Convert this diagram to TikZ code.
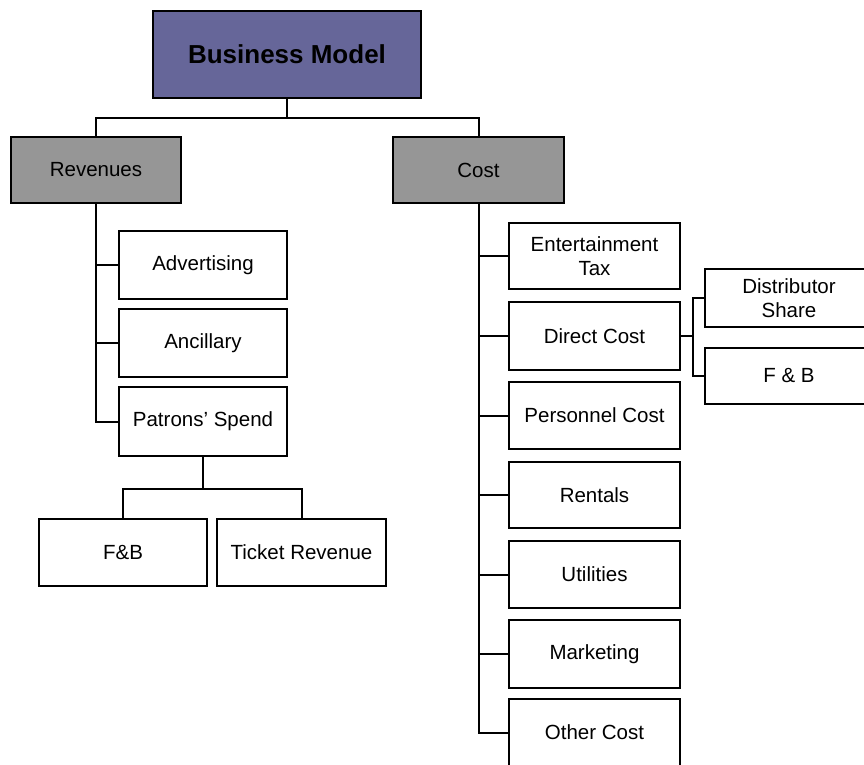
\documentclass[tikz,border=0pt]{standalone}
\usepackage{fontspec}
\setmainfont{Liberation Sans}
\usetikzlibrary{positioning}
\definecolor{topblue}{RGB}{102,102,153}
\definecolor{midgray}{RGB}{150,150,150}

\begin{document}
\begin{tikzpicture}[x=1pt, y=-1pt, line width=2pt,
	box/.style={draw, fill=white, minimum width=168pt, minimum height=67pt, inner sep=0pt, align=center, font=\fontsize{20.5}{24}\selectfont},
	headbox/.style={box, fill=midgray, minimum width=170pt, minimum height=66pt},
	topbox/.style={box, fill=topblue, minimum width=268pt, minimum height=87pt, font=\fontsize{26}{30}\selectfont\bfseries}]

\useasboundingbox (0,0) rectangle (864,765);
				% top and the two main branches
				\node [topbox] (model) at (287,54.5) {Business Model};
				\node [headbox] (rev) at (96,170) {Revenues};
				\node [headbox, minimum width=171pt] (cost) at (478.5,170) {Cost};
				\draw (model.south) -- +(0,19) -| (rev.north);
				\draw (model.south) -- +(0,19) -| (cost.north);
				% revenues side
				\node [box, minimum height=68pt] (adv) at (203,265) {Advertising};
				\node [box, minimum height=68pt] (anc) at (203,343) {Ancillary};
				\node [box, minimum height=69pt] (pat) at (203,421.5) {Patrons' Spend};
				\foreach \n in {adv,anc,pat}
					\draw (rev.south) |- (\n.west);
				\node [box] (fbrev) at (123,552.5) {F\&B};
				\node [box, minimum width=169pt] (ticket) at (301.5,552.5) {Ticket Revenue};
				\draw (pat.south) -- +(0,32) -| (fbrev.north);
				\draw (pat.south) -- +(0,32) -| (ticket.north);
				% cost side
				\node [box, minimum width=171pt, minimum height=66pt] (enttax) at (594.5,256) {Entertainment\\Tax};
				\node [box, minimum width=171pt, minimum height=68pt] (direct) at (594.5,336) {Direct Cost};
				\node [box, minimum width=171pt] (personnel) at (594.5,415.5) {Personnel Cost};
				\node [box, minimum width=171pt, minimum height=66pt] (rentals) at (594.5,495) {Rentals};
				\node [box, minimum width=171pt] (utilities) at (594.5,574.5) {Utilities};
				\node [box, minimum width=171pt, minimum height=68pt] (marketing) at (594.5,654) {Marketing};
				\node [box, minimum width=171pt] (othercost) at (594.5,732.5) {Other Cost};
				\foreach \n in {enttax,direct,personnel,rentals,utilities,marketing,othercost}
					\draw (cost.south) |- (\n.west);
				% split of direct cost
				\node [box, minimum height=58pt] (distshare) at (789,298) {Distributor\\Share};
				\node [box, minimum height=56pt] (fbcost) at (789,376) {F \& B};
				\draw (direct.east) -- +(11.5,0) |- (distshare.west);
				\draw (direct.east) -- +(11.5,0) |- (fbcost.west);

\end{tikzpicture}
\end{document}
